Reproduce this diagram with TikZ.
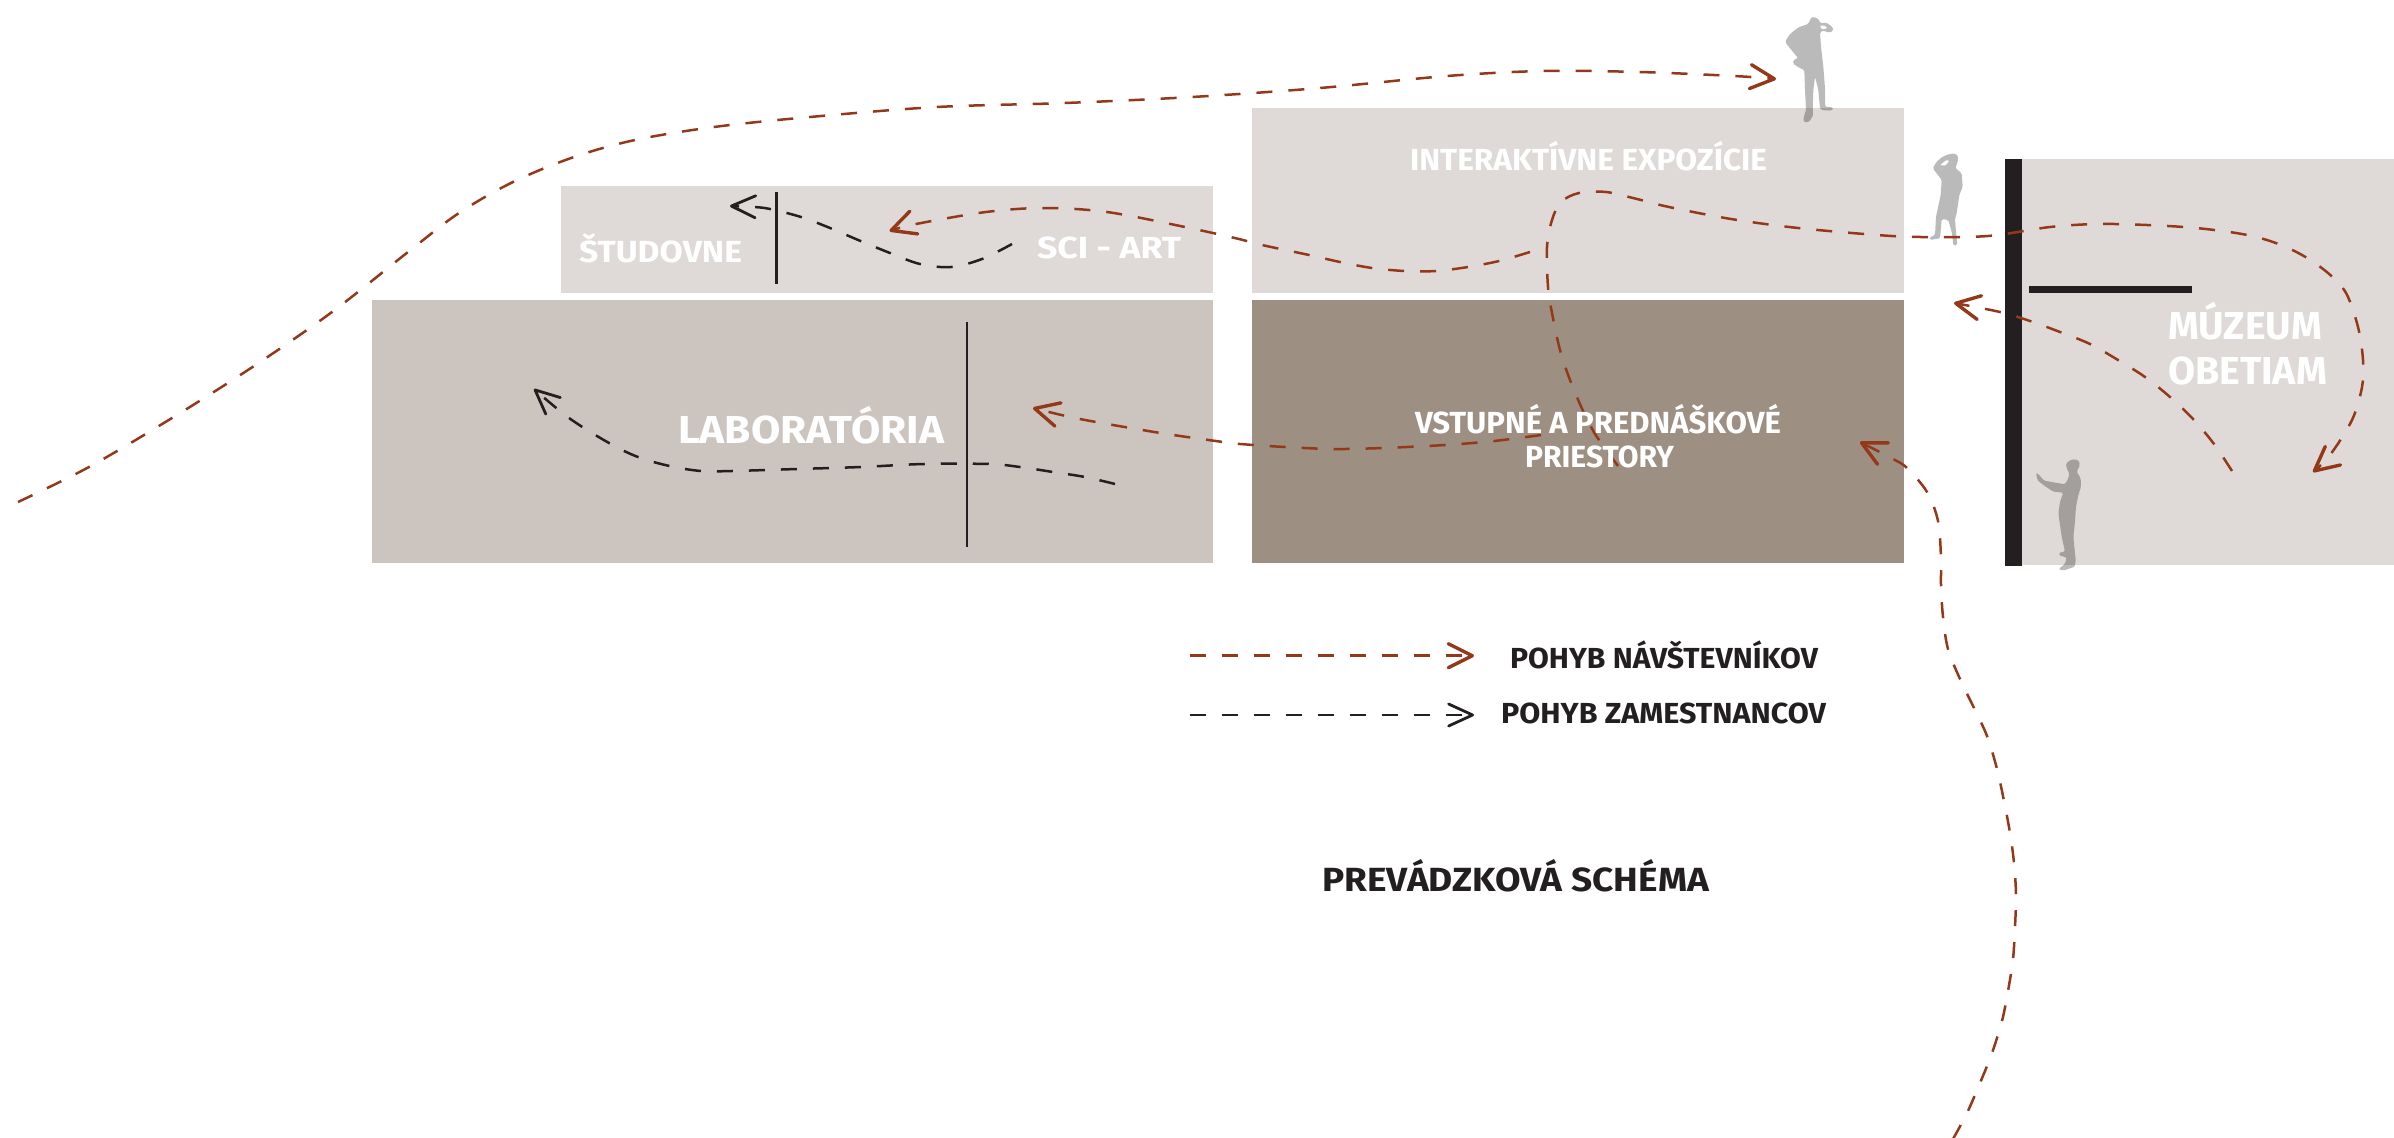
\documentclass[tikz,border=0pt]{standalone}
\usepackage{fontspec}
\usepackage{graphicx}
\setmainfont{Fira Sans}
\usetikzlibrary{arrows.meta}
\definecolor{roomlight}{HTML}{DFDAD7}
\definecolor{roommid}{HTML}{CCC4BE}
\definecolor{roomdark}{HTML}{9E8F83}
\definecolor{ink}{HTML}{231F20}
\definecolor{visitorred}{HTML}{93391A}
\newcommand{\fitw}[2]{\resizebox{#1pt}{\height}{#2}}
\tikzset{
  room/.style={anchor=north west,inner sep=0pt,outer sep=0pt,draw=none},
  wall/.style={anchor=north west,inner sep=0pt,outer sep=0pt,fill=ink,draw=none},
  partition/.style={draw=ink,line width=2.8pt},
  barbtip/.style={-{Straight Barb[length=24pt,width=24pt,line width=3.4pt,round]}},
  barbthin/.style={-{Straight Barb[length=24pt,width=22pt,line width=2.8pt,round]}},
  visitor/.style={draw=visitorred,line width=2.5pt,dash pattern=on 16pt off 16pt,barbtip},
  staff/.style={draw=ink,line width=2.5pt,dash pattern=on 16pt off 16pt,barbthin},
  person/.style={fill=black,fill opacity=0.27,rounded corners=1.5pt},
  persongap/.style={fill=white,rounded corners=1pt},
  inroom/.style={anchor=base west,inner sep=0pt,outer sep=0pt,text=white},
  caption/.style={anchor=base west,inner sep=0pt,outer sep=0pt,text=ink},
  fsmall/.style={font=\fontsize{30.5}{36}\selectfont\bfseries},
  fbig/.style={font=\fontsize{39}{45}\selectfont\bfseries},
  fcap/.style={font=\fontsize{33.5}{38}\selectfont\bfseries},
  fleg/.style={font=\fontsize{29}{34}\selectfont\bfseries},
}
\begin{document}
\begin{tikzpicture}[x=1pt,y=-1pt]
\useasboundingbox (0,0) rectangle (2394,1138);
% rooms
\node[room,fill=roomlight,minimum width=652pt,minimum height=185pt] (expo) at (1252,108) {};
\node[room,fill=roomdark,minimum width=652pt,minimum height=263pt] (entry) at (1252,300) {};
\node[room,fill=roomlight,minimum width=652pt,minimum height=107pt] (study) at (561,186) {};
\node[room,fill=roommid,minimum width=841pt,minimum height=263pt] (lab) at (372,300) {};
\node[room,fill=roomlight,minimum width=372pt,minimum height=406pt] (museum) at (2022,159) {};
\node[wall,minimum width=17.5pt,minimum height=407pt] (mwall) at (2004.5,159) {};
\node[wall,minimum width=163pt,minimum height=7.5pt] (mbar) at (2029,285.7) {};
% partitions
\coordinate (pa1) at (776.6,192); \coordinate (pa2) at (776.6,284);
\coordinate (pb1) at (967,322); \coordinate (pb2) at (967,547);
\draw[partition] (pa1) -- (pa2);
\draw[partition] (pb1) -- (pb2);
% figures
\begin{scope}[shift={(1770,10)},x=0.3333pt,y=-0.3333pt]
\path[person] (122,25)--(130,20)--(147,28)--(150,40)--(170,38)--(188,52)--(190,62)--(178,68)--(160,62)--(150,66)--(153,110)--(160,170)--(165,235)--(165,290)--(188,292)--(190,300)--(170,302)--(150,298)--(145,240)--(135,200)--(130,240)--(128,300)--(130,315)--(118,335)--(103,338)--(100,325)--(108,300)--(105,240)--(103,180)--(85,172)--(68,160)--(72,148)--(85,145)--(60,115)--(45,95)--(60,72)--(85,52)--(115,42)--cycle;
\fill[persongap] (150,47)--(165,47)--(172,55)--(155,58)--cycle;
\end{scope}
\begin{scope}[shift={(1920,145)},x=0.3333pt,y=-0.3333pt]
\path[person] (68,35)--(85,28)--(105,25)--(115,35)--(112,55)--(105,68)--(125,85)--(128,125)--(118,150)--(110,205)--(105,222)--(108,260)--(112,300)--(100,302)--(96,265)--(85,225)--(65,222)--(60,280)--(30,285)--(28,278)--(45,270)--(48,215)--(62,150)--(65,105)--(50,85)--(38,70)--(50,50)--cycle;
\fill[persongap] (60,60)--(80,45)--(88,48)--(75,62)--cycle;
\end{scope}
\begin{scope}[shift={(2030,450)},x=0.3333pt,y=-0.3333pt]
\path[person] (108,40)--(125,28)--(145,30)--(150,45)--(140,65)--(152,85)--(153,110)--(145,135)--(138,170)--(135,215)--(130,260)--(137,330)--(135,350)--(100,362)--(85,357)--(105,342)--(110,322)--(88,317)--(87,308)--(105,305)--(95,260)--(85,190)--(90,155)--(100,128)--(70,125)--(40,105)--(22,90)--(18,68)--(25,72)--(42,92)--(105,103)--(115,85)--(118,70)--(110,55)--cycle;
\end{scope}
% visitor paths
\draw[visitor] plot[smooth,tension=0.55] coordinates {(18,502)(89,467)(172,418)(252.5,367)(332,312)(408,252)(459,213)(513,182)(574,157)(635,140)(714,127)(810,117)(937,107)(1065,103)(1192,97)(1320,88)(1447,76)(1543,71)(1639,72)(1734,76)(1776,79)};
\draw[visitor] plot[smooth,tension=0.55] coordinates {(1618,466)(1597,437)(1584,413)(1570,380)(1560,350)(1552,313)(1548,287)(1547,247)(1552,220)(1561,202)(1579,193)(1606,192)(1637,199)(1669,207)(1731,219)(1798,228)(1877,235)(1921,237)(1988,236)(2050,227)(2098,224)(2147,225)(2196,228)(2242,234)(2273,242)(2302,255)(2328,273)(2346,293)(2358,327)(2363,360)(2362,387)(2352,420)(2330,455)(2313,472)};
\draw[visitor] plot[smooth,tension=0.55] coordinates {(1530,252)(1499,261)(1468,267)(1436,271)(1405,271)(1372,268)(1340,262)(1309,255)(1262,245)(1239,239)(1185,227)(1107,212)(1044,208)(986,212)(916,224)(889.5,231)};
\draw[visitor] plot[smooth,tension=0.55] coordinates {(1541,435)(1494,441)(1445,445)(1383,448)(1334,449)(1285,447)(1240,444)(1223,442)(1160.5,433)(1080,419)(1033,408)};
\draw[visitor] plot[smooth,tension=0.55] coordinates {(1953,1139)(1967,1113)(1980,1083)(1992,1053)(2002,1021)(2008,991)(2013,959)(2015,927)(2016,895)(2014,863)(2010,833)(2004,801)(1997,769)(1987,736)(1974,708)(1960,679)(1948,649)(1943,617)(1941,585)(1941,558)(1938,521)(1927,492)(1907,468)(1893,459)(1860,442)};
\draw[visitor] plot[smooth,tension=0.55] coordinates {(2232,471)(2214,444)(2193,419)(2170,397)(2145,377)(2118,360)(2090,344)(2060,332)(2030,321)(2000,312)(1954,303)};
% staff paths
\draw[staff] plot[smooth,tension=0.55] coordinates {(1012,244)(982,259)(951,267)(920,264)(890,253)(860.5,241)(830,228)(801,217)(770,209)(754,207)(730,206)};
\draw[staff] plot[smooth,tension=0.55] coordinates {(1115,484)(1085,477)(1053,472)(1020,467)(989,464)(924,464)(861,467)(797,469)(732,471)(701,471)(669.5,466)(638,457)(609,443)(569,418)(534,389)};
% room labels
\node[inroom,fsmall] (tstudy) at (579,262) {\fitw{163}{ŠTUDOVNE}};
\node[inroom,fsmall] (tsci) at (1037,258) {\fitw{144}{SCI - ART}};
\node[inroom,fsmall] (texpo) at (1410,170) {\fitw{357}{INTERAKTÍVNE EXPOZÍCIE}};
\node[inroom,fsmall] (tentry) at (1415,433) {\fitw{366}{VSTUPNÉ A PREDNÁŠKOVÉ}};
\node[inroom,fsmall] (tentryb) at (1525,467) {\fitw{149}{PRIESTORY}};
\node[inroom,fbig] (tlab) at (678,443) {\fitw{266}{LABORATÓRIA}};
\node[inroom,fbig] (tmus) at (2168,339) {\fitw{154}{MÚZEUM}};
\node[inroom,fbig] (tmusb) at (2168,384) {\fitw{159}{OBETIAM}};
% legend
\node[caption,fleg] (lv) at (1510,668) {\fitw{308}{POHYB NÁVŠTEVNÍKOV}};
\node[caption,fleg] (ls) at (1501,723) {\fitw{325}{POHYB ZAMESTNANCOV}};
\node[caption,fcap] (title) at (1322,891) {\fitw{387}{PREVÁDZKOVÁ SCHÉMA}};
\coordinate (lv0) at (1189.5,655.7); \coordinate (lv1) at (1474,655.7);
\coordinate (ls0) at (1189.5,715); \coordinate (ls1) at (1474,715);
\draw[visitor] (lv0) -- (lv1);
\draw[staff] (ls0) -- (ls1);
\end{tikzpicture}
\end{document}
